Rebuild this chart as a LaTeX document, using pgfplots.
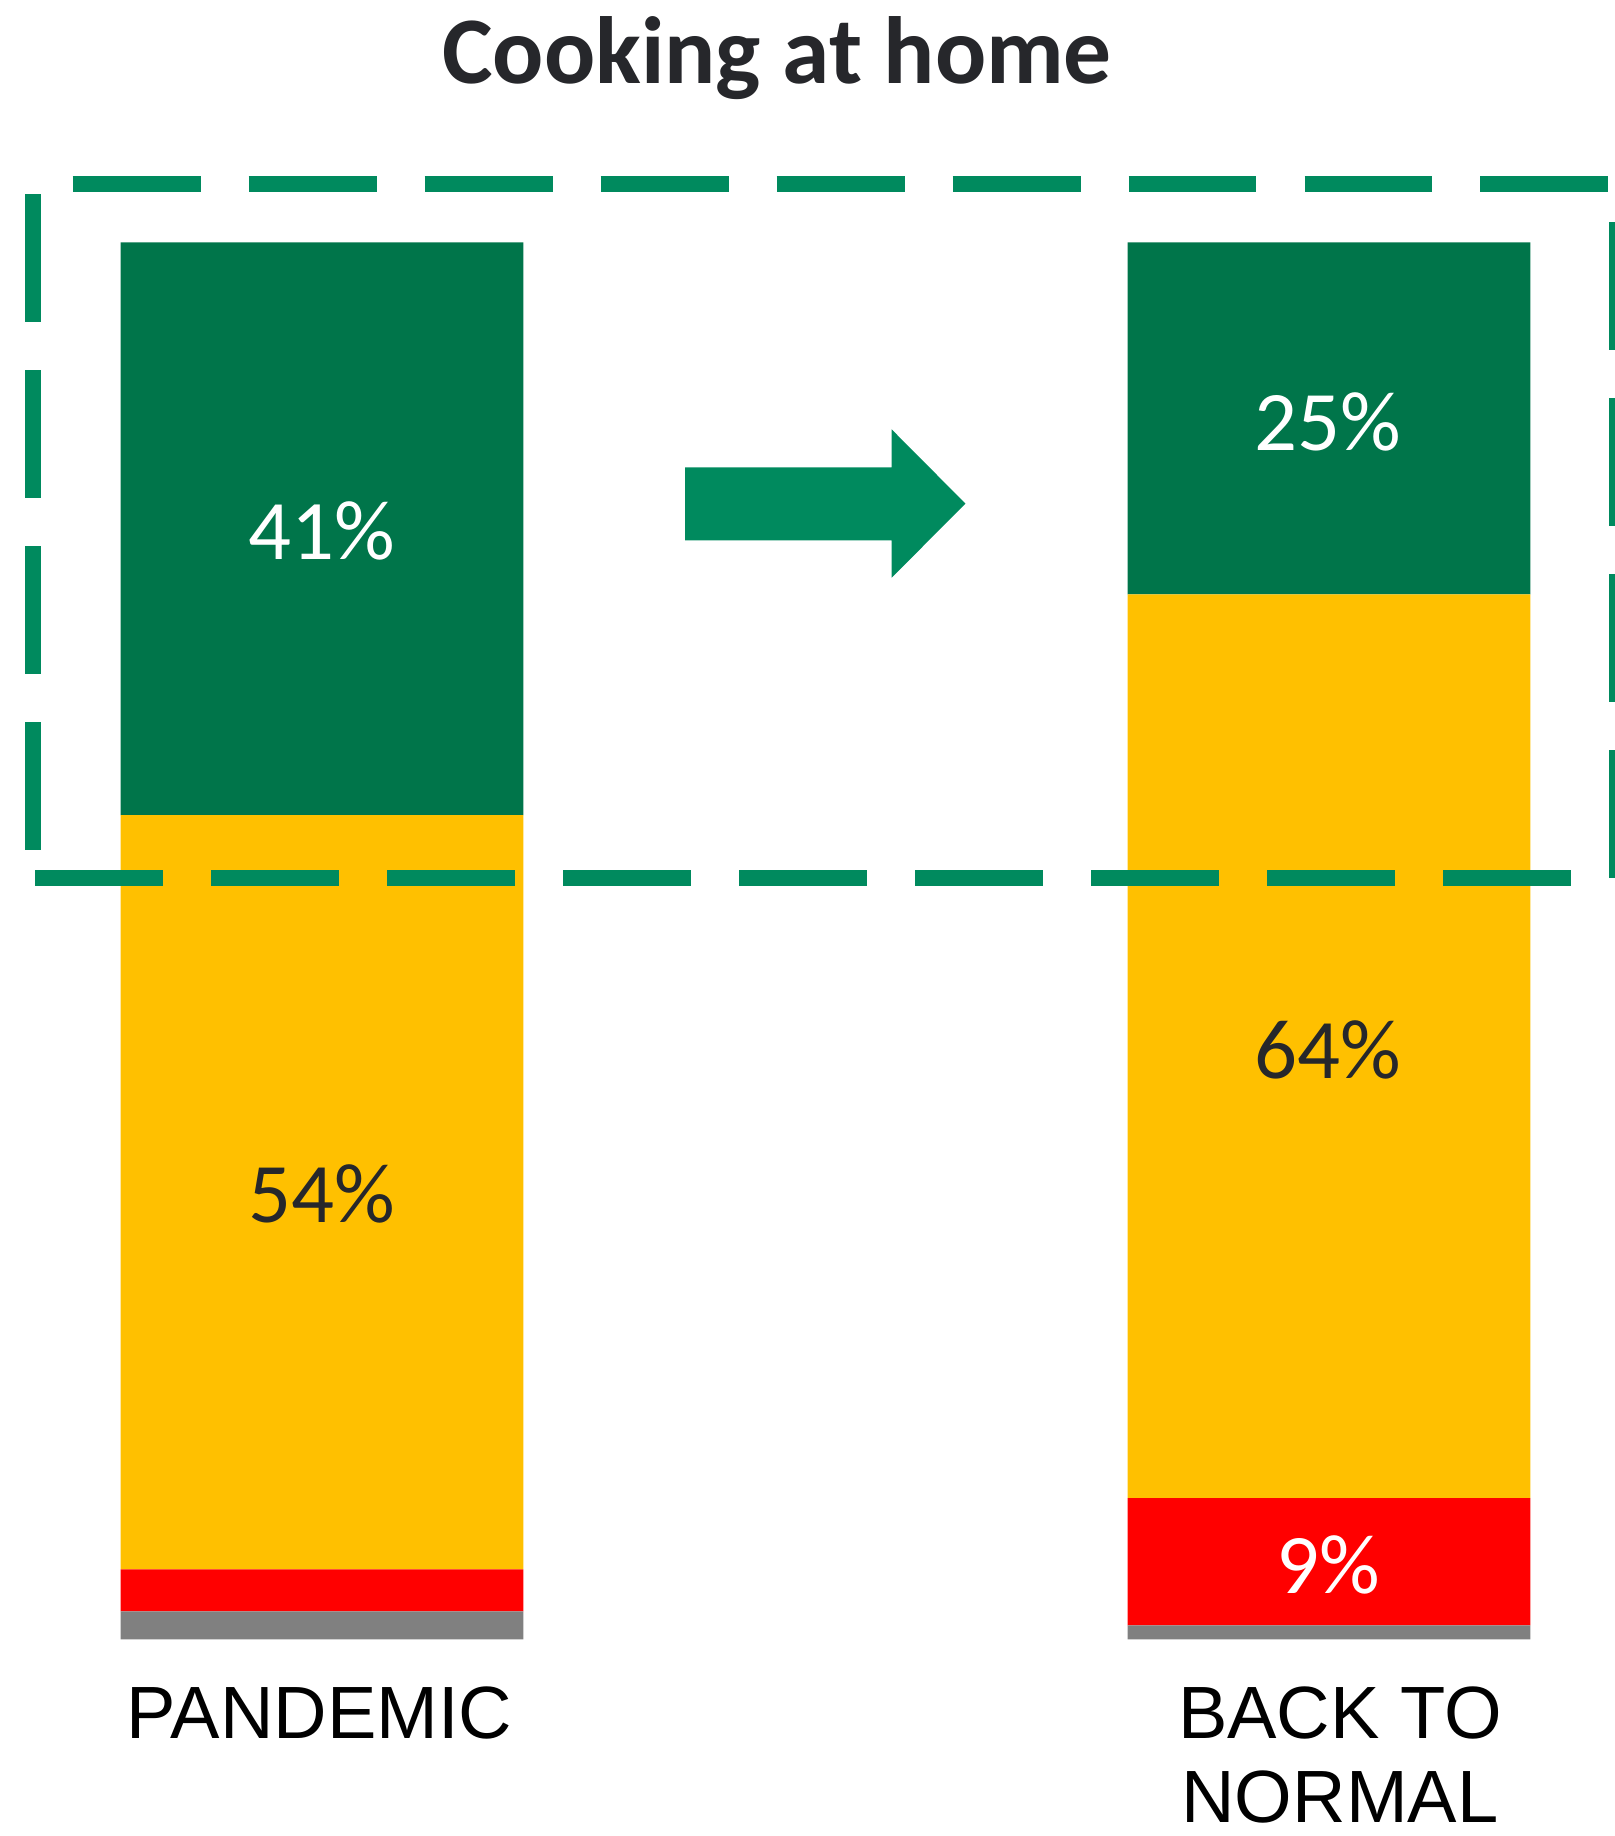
\documentclass[border=0pt]{standalone}
\usepackage{fontspec}
\setmainfont{Carlito}
\newfontfamily\arialf{Liberation Sans}
\usepackage{pgfplots}
\pgfplotsset{compat=1.18}
\definecolor{cgreen}{RGB}{0,117,74}
\definecolor{cdash}{RGB}{0,138,94}
\definecolor{cyellow}{RGB}{255,192,0}
\definecolor{cred}{RGB}{255,0,0}
\definecolor{cgray}{RGB}{128,128,128}
\definecolor{ctext}{RGB}{38,39,43}
\begin{document}
\begin{tikzpicture}
\begin{axis}[
  at={(0,0)}, anchor=south west,
  scale only axis, width=13.79cm, height=15.68cm,
  xmin=-0.319767, xmax=1.283721, ymin=-14.082, ymax=117.351,
  hide axis,
  ybar stacked, bar width=3.44cm,
  clip=false,
]
\addplot[fill=cgray, draw=none] coordinates {(0,2) (1,1.0)};
\addplot[fill=cred, draw=none] coordinates {(0,3) (1,9.1)};
\addplot[fill=cyellow, draw=none] coordinates {(0,54) (1,64.7)};
\addplot[fill=cgreen, draw=none] coordinates {(0,41) (1,25.2)};
\end{axis}
\begin{scope}[x=0.01cm, y=-0.01cm, yshift=15.68cm]
  \begin{scope}[line width=0.139cm, cdash, dash pattern=on 1.093cm off 0.41cm]
    \draw (62,157) -- (1420,157);
    \draw (28,166) -- (28,760);
    \draw (30,750) -- (1420,750);
    \draw (1382,190) -- (1382,760);
  \end{scope}
  \fill[cdash] (585.5,399.3) -- (762,399.3) -- (762,367) -- (825,430.4) -- (762,493.6) -- (762,461.7) -- (585.5,461.7) -- cycle;
  \node[text=white, font=\fontsize{20.6}{25}\selectfont] at (275,454) {41\%};
  \node[text=ctext, font=\fontsize{20.6}{25}\selectfont] at (275,1020) {54\%};
  \node[text=white, font=\fontsize{20.6}{25}\selectfont] at (1135,361) {25\%};
  \node[text=ctext, font=\fontsize{20.6}{25}\selectfont] at (1135,897) {64\%};
  \node[text=white, font=\fontsize{20.6}{25}\selectfont] at (1135,1337) {9\%};
  \node[anchor=base, text=ctext, font=\fontsize{23.2}{28}\selectfont\bfseries] at (664,71) {Cooking at home};
  \node[anchor=base, font=\arialf\fontsize{18}{22}\selectfont] at (273,1486) {PANDEMIC};
  \node[anchor=base, font=\arialf\fontsize{18}{22}\selectfont] at (1145,1486) {BACK TO};
  \node[anchor=base, font=\arialf\fontsize{18}{22}\selectfont] at (1145,1557) {NORMAL};
\end{scope}
\pgfresetboundingbox
\useasboundingbox (0,0) rectangle (13.79cm,15.68cm);
\end{tikzpicture}
\end{document}
